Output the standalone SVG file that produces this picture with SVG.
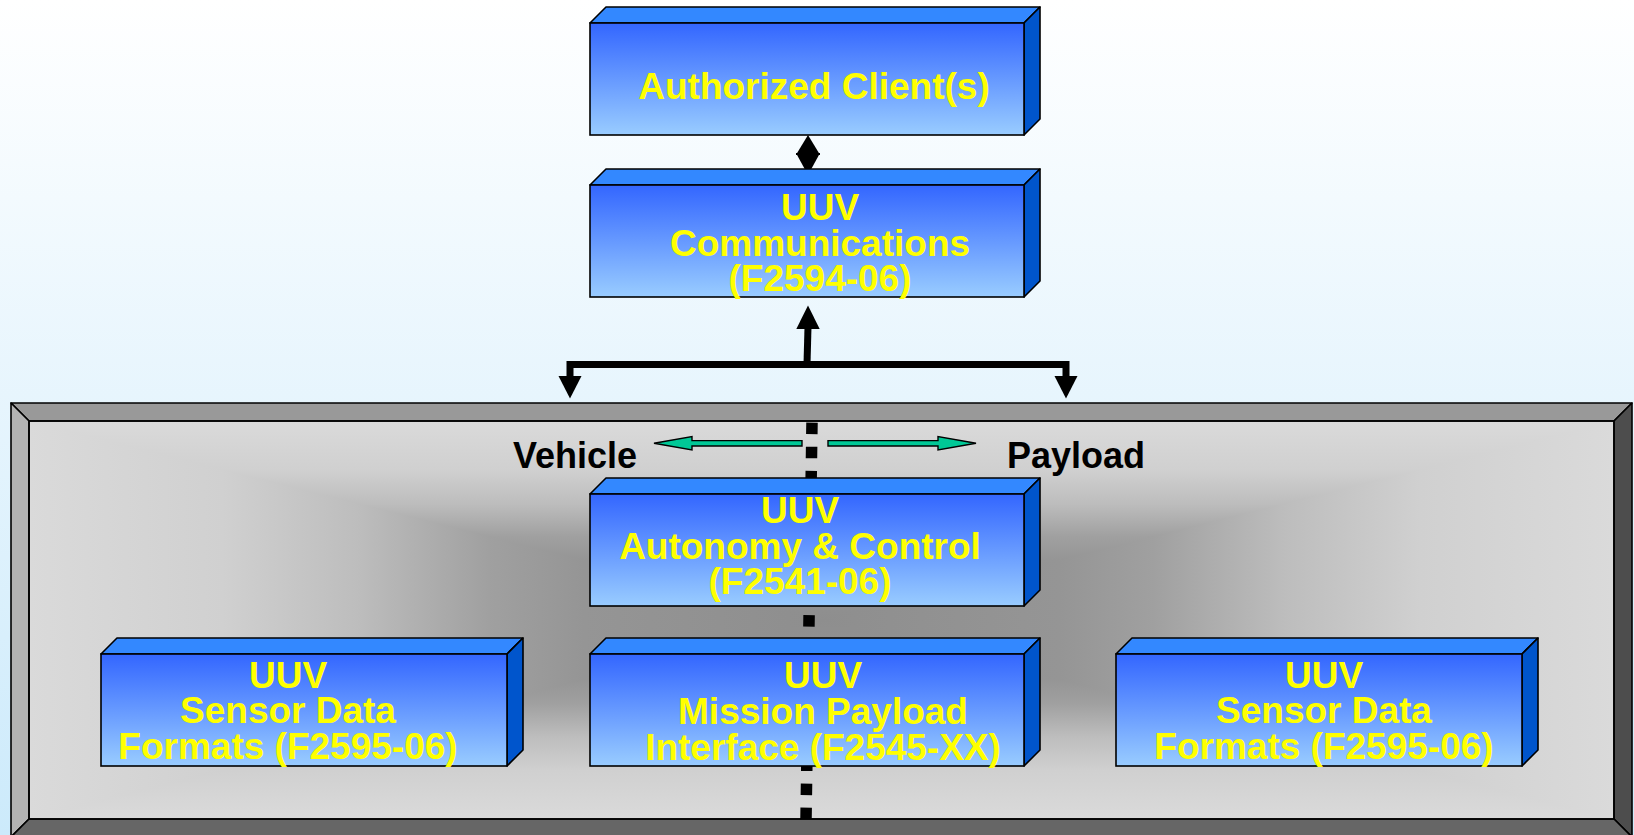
<svg xmlns="http://www.w3.org/2000/svg" width="1634" height="835" viewBox="0 0 1634 835">
<defs>
<linearGradient id="bg" x1="0" y1="0" x2="0" y2="835" gradientUnits="userSpaceOnUse">
<stop offset="0" stop-color="#FFFFFF"/><stop offset="1" stop-color="#CCEAFB"/>
</linearGradient>
<linearGradient id="ph" x1="29" y1="0" x2="1614" y2="0" gradientUnits="userSpaceOnUse">
<stop offset="0" stop-color="#DADADA"/><stop offset="0.1225" stop-color="#D0D0D0"/><stop offset="0.2075" stop-color="#BDBDBD"/><stop offset="0.29" stop-color="#A0A0A0"/><stop offset="0.35" stop-color="#959595"/><stop offset="0.5" stop-color="#8E8E8E"/><stop offset="0.65" stop-color="#959595"/><stop offset="0.71" stop-color="#A0A0A0"/><stop offset="0.7925" stop-color="#BDBDBD"/><stop offset="0.8775" stop-color="#D0D0D0"/><stop offset="1" stop-color="#DADADA"/>
</linearGradient>
<linearGradient id="pt" x1="0" y1="620" x2="0" y2="421" gradientUnits="userSpaceOnUse">
<stop offset="0" stop-color="#8E8E8E"/><stop offset="0.3" stop-color="#959595"/><stop offset="0.42" stop-color="#A0A0A0"/><stop offset="0.585" stop-color="#BDBDBD"/><stop offset="0.755" stop-color="#D0D0D0"/><stop offset="1" stop-color="#DADADA"/>
</linearGradient>
<linearGradient id="pb" x1="0" y1="620" x2="0" y2="819" gradientUnits="userSpaceOnUse">
<stop offset="0" stop-color="#8E8E8E"/><stop offset="0.3" stop-color="#959595"/><stop offset="0.42" stop-color="#A0A0A0"/><stop offset="0.585" stop-color="#BDBDBD"/><stop offset="0.755" stop-color="#D0D0D0"/><stop offset="1" stop-color="#DADADA"/>
</linearGradient>
<linearGradient id="front" x1="0" y1="0" x2="0" y2="1">
<stop offset="0" stop-color="#3366FF"/><stop offset="1" stop-color="#99CCFF"/>
</linearGradient>
<style>
.front{fill:url(#front);stroke:#000;stroke-width:1.6}
.top{fill:#3388FF;stroke:#000;stroke-width:1.6;stroke-linejoin:round}
.side{fill:#0055CC;stroke:#000;stroke-width:1.6;stroke-linejoin:round}
.lbl{font-family:"Liberation Sans",Arial,sans-serif;font-weight:bold;font-size:37px;fill:#FFFF00;text-anchor:middle}
.side-lbl{font-family:"Liberation Sans",Arial,sans-serif;font-weight:bold;font-size:36px;fill:#000}
.band{stroke:#000;stroke-width:1.6;stroke-linejoin:round}
</style>
</defs>
<rect width="1634" height="835" fill="url(#bg)"/>
<g id="frame">
<rect x="29" y="421" width="1585" height="398" fill="url(#ph)"/>
<polygon points="29,421 1614,421 821.5,620" fill="url(#pt)"/>
<polygon points="29,819 1614,819 821.5,620" fill="url(#pb)"/>
<polygon class="band" points="11,403 1632,403 1614,421 29,421" fill="#999999"/>
<polygon class="band" points="11,403 29,421 29,819 11,837" fill="#B3B3B3"/>
<polygon class="band" points="1632,403 1632,837 1614,819 1614,421" fill="#4D4D4D"/>
<polygon class="band" points="11,837 29,819 1614,819 1632,837" fill="#666666"/>
<rect x="29" y="421" width="1585" height="398" fill="none" stroke="#000" stroke-width="1.6"/>
</g>
<g id="divider">
<path d="M812,422.7 L806,819" stroke="#000" stroke-width="11.5" stroke-dasharray="11.5 12.56" fill="none"/>
</g>
<g id="connectors">
<polygon points="808,135 819.5,154 808,175 796.5,154" fill="#000"/>
<line x1="796" y1="154" x2="820" y2="154" stroke="#000" stroke-width="2"/>
<line x1="807" y1="364" x2="808" y2="327" stroke="#000" stroke-width="7"/>
<polygon points="808,305.5 819.7,329 796.3,329" fill="#000"/>
<path d="M570,378 V364.5 H1066 V378" fill="none" stroke="#000" stroke-width="7" stroke-linejoin="miter"/>
<polygon points="558.5,376 581.5,376 570,398.5" fill="#000"/>
<polygon points="1054.5,376 1077.5,376 1066,398.5" fill="#000"/>
<polygon points="654,443.3 692,436.6 692,440.6 802,440.6 802,446 692,446 692,450" fill="#00C896" stroke="#000" stroke-width="1.4" stroke-linejoin="miter"/>
<polygon points="976,443.3 938,436.6 938,440.6 828,440.6 828,446 938,446 938,450" fill="#00C896" stroke="#000" stroke-width="1.4" stroke-linejoin="miter"/>
</g>
<g id="labels">
<text class="side-lbl" x="513" y="468">Vehicle</text>
<text class="side-lbl" x="1007" y="468">Payload</text>
</g>
<g id="authorized">
<polygon class="top" points="590,23 606,7 1040,7 1024,23"/>
<polygon class="side" points="1024,23 1040,7 1040,119 1024,135"/>
<rect class="front" x="590" y="23" width="434" height="112"/>
<text class="lbl" x="814" y="99">Authorized Client(s)</text>
</g>
<g id="communications">
<polygon class="top" points="590,185 606,169 1040,169 1024,185"/>
<polygon class="side" points="1024,185 1040,169 1040,281 1024,297"/>
<rect class="front" x="590" y="185" width="434" height="112"/>
<text class="lbl" x="820" y="220">UUV</text>
<text class="lbl" x="820" y="256">Communications</text>
<text class="lbl" x="820" y="291">(F2594-06)</text>
</g>
<g id="autonomy">
<polygon class="top" points="590,494 606,478 1040,478 1024,494"/>
<polygon class="side" points="1024,494 1040,478 1040,590 1024,606"/>
<rect class="front" x="590" y="494" width="434" height="112"/>
<text class="lbl" x="800" y="523">UUV</text>
<text class="lbl" x="800" y="559">Autonomy &amp; Control</text>
<text class="lbl" x="800" y="594">(F2541-06)</text>
</g>
<g id="sensor-left">
<polygon class="top" points="101,654 117,638 523,638 507,654"/>
<polygon class="side" points="507,654 523,638 523,750 507,766"/>
<rect class="front" x="101" y="654" width="406" height="112"/>
<text class="lbl" x="288" y="688">UUV</text>
<text class="lbl" x="288" y="723">Sensor Data</text>
<text class="lbl" x="288" y="759">Formats (F2595-06)</text>
</g>
<g id="mission">
<polygon class="top" points="590,654 606,638 1040,638 1024,654"/>
<polygon class="side" points="1024,654 1040,638 1040,750 1024,766"/>
<rect class="front" x="590" y="654" width="434" height="112"/>
<text class="lbl" x="823" y="688">UUV</text>
<text class="lbl" x="823" y="724">Mission Payload</text>
<text class="lbl" x="823" y="760">Interface (F2545-XX)</text>
</g>
<g id="sensor-right">
<polygon class="top" points="1116,654 1132,638 1538,638 1522,654"/>
<polygon class="side" points="1522,654 1538,638 1538,750 1522,766"/>
<rect class="front" x="1116" y="654" width="406" height="112"/>
<text class="lbl" x="1324" y="688">UUV</text>
<text class="lbl" x="1324" y="723">Sensor Data</text>
<text class="lbl" x="1324" y="759">Formats (F2595-06)</text>
</g>
</svg>
